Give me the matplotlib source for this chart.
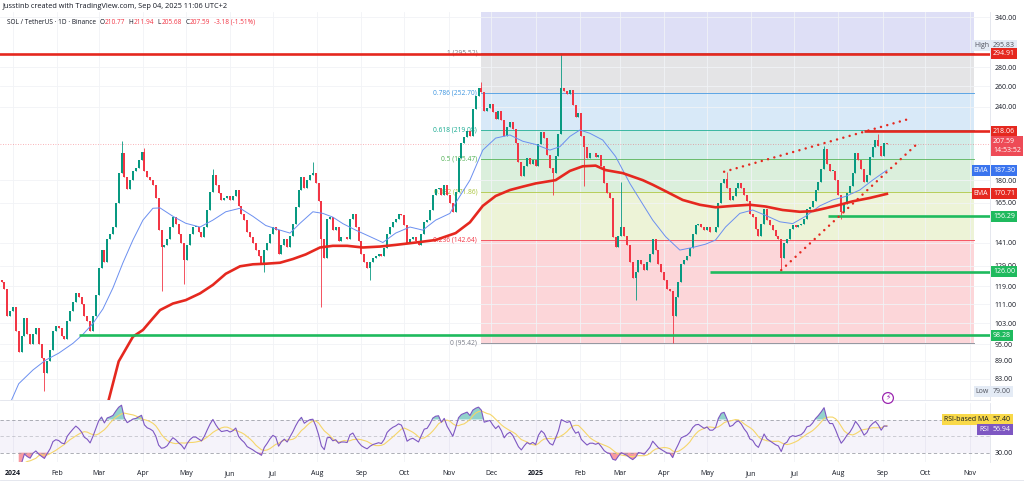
import matplotlib
matplotlib.use('Agg')
import matplotlib.pyplot as plt
import matplotlib.dates as mdates
from matplotlib.lines import Line2D
from matplotlib.ticker import NullLocator, NullFormatter, FixedLocator
import numpy as np
import pandas as pd

plt.rcParams['font.family'] = ['Open Sans', 'DejaVu Sans']

# SOL / USDT closes, one reading every 2 days starting 2023-12-24
START = '2023-12-24'
first_open = 122
closes = [
    121, 118, 106, 108, 110, 100, 92, 98, 105, 99,
    95, 99, 101, 95, 90, 85, 89, 93, 100, 102,
    101, 98, 97, 104, 108, 112, 116, 114, 111, 106,
    104, 100, 106, 115, 128, 137, 131, 143, 146, 150,
    165, 185, 200, 182, 174, 180, 187, 189, 195, 201,
    187, 182, 180, 177, 168, 148, 139, 140, 143, 150,
    156, 152, 146, 141, 132, 140, 146, 150, 150, 147,
    144, 150, 160, 172, 184, 177, 171, 167, 168, 169,
    167, 169, 173, 163, 158, 154, 147, 144, 141, 137,
    134, 130, 137, 141, 146, 150, 148, 135, 140, 143,
    139, 145, 152, 162, 173, 182, 175, 180, 184, 185,
    178, 166, 143, 133, 155, 156, 148, 150, 142, 144,
    144, 143, 155, 158, 150, 142, 135, 131, 128, 131,
    133, 134, 135, 134, 138, 146, 150, 153, 155, 158,
    157, 151, 141, 143, 144, 142, 140, 146, 153, 154,
    160, 170, 174, 175, 170, 177, 170, 165, 159, 172,
    196, 208, 213, 218, 214, 238, 250, 258, 254, 236,
    239, 242, 235, 229, 236, 228, 214, 222, 226, 220,
    208, 193, 183, 190, 196, 192, 195, 190, 207, 217,
    212, 199, 189, 185, 198, 216, 258, 255, 252, 256,
    241, 230, 234, 214, 205, 196, 200, 200, 197, 199,
    190, 178, 171, 168, 144, 139, 145, 150, 145, 140,
    131, 123, 126, 132, 130, 127, 131, 135, 143, 137,
    130, 126, 122, 118, 117, 106, 114, 121, 130, 132,
    134, 138, 146, 151, 152, 150, 148, 150, 147, 147,
    150, 165, 178, 181, 175, 167, 169, 175, 178, 175,
    170, 166, 158, 156, 149, 145, 152, 161, 154, 151,
    148, 145, 143, 133, 141, 143, 149, 151, 150, 151,
    152, 155, 161, 162, 166, 173, 179, 188, 203, 192,
    187, 187, 180, 170, 159, 164, 171, 176, 185, 200,
    195, 188, 179, 184, 197, 205, 211, 206, 198, 208, 207.59,
]

# the long wicks that stand out
wick_highs = {
    '2024-03-18': 210, '2024-04-01': 204, '2024-05-21': 188, '2024-07-29': 193,
    '2024-11-23': 264, '2025-01-19': 295.83, '2025-03-02': 179, '2025-05-14': 186,
    '2025-07-22': 206, '2025-08-29': 216,
}
wick_lows = {
    '2024-01-23': 79.0, '2024-04-13': 117, '2024-05-01': 120, '2024-06-24': 126,
    '2024-08-05': 110, '2024-09-07': 122, '2025-01-13': 170, '2025-02-03': 176,
    '2025-03-11': 113, '2025-04-07': 95.4, '2025-06-22': 126.8, '2025-08-02': 155,
}

ema200_dates = ['2024-03-04', '2024-03-08', '2024-03-15', '2024-03-25', '2024-04-01', '2024-04-08',
                '2024-04-13', '2024-04-22', '2024-05-01', '2024-05-11', '2024-05-20', '2024-05-29',
                '2024-06-08', '2024-06-17', '2024-06-26', '2024-07-06', '2024-07-15', '2024-07-24',
                '2024-08-03', '2024-08-12', '2024-08-22', '2024-09-02', '2024-09-14', '2024-09-25',
                '2024-10-09', '2024-10-23', '2024-11-06', '2024-11-16', '2024-11-25', '2024-12-04',
                '2024-12-14', '2024-12-23', '2025-01-01', '2025-01-15', '2025-01-25', '2025-02-03',
                '2025-02-12', '2025-02-19', '2025-03-03', '2025-03-17', '2025-03-24', '2025-04-02',
                '2025-04-14', '2025-04-26', '2025-05-07', '2025-05-19', '2025-05-31', '2025-06-11',
                '2025-06-23', '2025-07-05', '2025-07-14', '2025-07-23', '2025-08-02', '2025-08-11',
                '2025-08-23', '2025-09-04']
ema200_vals = [72, 76.4, 88.8, 97.8, 100.4, 105.1,
               108.5, 111.3, 112.8, 115.8, 119.7, 125.0,
               128.7, 129.7, 130.0, 130.5, 132.4, 134.8,
               138.5, 139.4, 139.4, 138.5, 139.0, 139.9,
               141.2, 142.6, 146.5, 152.8, 162.9, 169.3,
               173.3, 175.6, 177.8, 180.1, 186.7, 190.1,
               190.6, 187.3, 185.1, 180.1, 176.9, 172.5,
               166.7, 163.6, 162.0, 162.9, 163.6, 162.5,
               160.3, 159.2, 159.6, 161.4, 163.6, 165.8,
               168.0, 170.71]

ema50_dates = ['2023-12-27', '2023-12-31', '2024-01-05', '2024-01-15', '2024-01-24', '2024-02-02',
               '2024-02-12', '2024-02-19', '2024-02-26', '2024-03-04', '2024-03-11', '2024-03-18',
               '2024-03-25', '2024-04-01', '2024-04-08', '2024-04-13', '2024-04-22', '2024-05-01',
               '2024-05-11', '2024-05-20', '2024-05-29', '2024-06-08', '2024-06-17', '2024-06-26',
               '2024-07-06', '2024-07-13', '2024-07-20', '2024-07-29', '2024-08-05', '2024-08-12',
               '2024-08-19', '2024-08-28', '2024-09-07', '2024-09-16', '2024-09-25', '2024-10-05',
               '2024-10-14', '2024-10-23', '2024-11-02', '2024-11-06', '2024-11-16', '2024-11-25',
               '2024-12-04', '2024-12-14', '2024-12-23', '2025-01-01', '2025-01-11', '2025-01-18',
               '2025-01-25', '2025-02-01', '2025-02-08', '2025-02-17', '2025-02-26', '2025-03-08',
               '2025-03-17', '2025-03-24', '2025-04-02', '2025-04-12', '2025-04-21', '2025-04-30',
               '2025-05-07', '2025-05-14', '2025-05-24', '2025-06-02', '2025-06-11', '2025-06-21',
               '2025-06-30', '2025-07-09', '2025-07-19', '2025-07-28', '2025-08-06', '2025-08-16',
               '2025-08-25', '2025-09-04']
ema50_vals = [72, 76.4, 81.4, 85.9, 89.3, 91.7,
              95.3, 98.7, 103.0, 109.0, 118.3, 130.5,
              142.6, 154.1, 161.4, 161.6, 156.4, 152.2,
              150.0, 154.1, 159.2, 161.4, 156.4, 150.9,
              148.2, 146.5, 152.2, 159.2, 158.2, 155.9,
              152.0, 148.2, 144.5, 141.2, 146.5, 150.0,
              148.2, 154.1, 158.2, 164.8, 180.1, 202.5,
              212.2, 214.8, 209.6, 207.0, 202.5, 205.2,
              213.6, 219.0, 216.2, 210.6, 197.5, 177.8,
              164.0, 154.1, 144.5, 137.1, 138.5, 140.3,
              142.6, 150.0, 158.2, 160.3, 157.0, 153.1,
              152.0, 156.4, 162.9, 166.7, 169.0, 173.3,
              180.1, 187.30]

fib_low, fib_high = 95.42, 295.52
fib_levels = [0, 0.236, 0.382, 0.5, 0.618, 0.786, 1, 1.618]
fib_colors = ['#787b86', '#f23645', '#a9c43a', '#4caf50', '#14a98f', '#3d95e0', '#787b86', '#5c5fd6']
fib_start, fib_end = '2024-11-24', '2025-11-04'

RED = '#e5281f'
GREEN = '#1fba5e'
h_levels = [294.91, 218.06, 156.29, 126.00, 98.28]
h_starts = ['2023-12-20', '2025-08-19', '2025-07-25', '2025-05-03', '2024-02-16']
h_colors = [RED, RED, GREEN, GREEN, GREEN]

trend_upper = (['2025-05-13', '2025-09-19'], [186.1, 228.5])
trend_lower = (['2025-06-22', '2025-09-25'], [126.8, 207.3])

last_price = 207.59
price_ticks = [340, 280, 260, 240, 180, 165, 141, 129, 119, 111, 103, 95, 89, 83]
month_starts = pd.date_range('2024-01-01', '2025-11-01', freq='MS')
month_labels = [('2024' if d.month == 1 and d.year == 2024 else '2025' if d.month == 1 else d.strftime('%b'))
                for d in month_starts]

legend_parts = [('SOL / TetherUS · 1D · Binance', 'k', 3.5), ('O', 'k', 0.3), ('210.77', 'r', 3.5),
                ('H', 'k', 0.3), ('211.94', 'r', 3.5), ('L', 'k', 0.3), ('205.68', 'r', 3.5),
                ('C', 'k', 0.3), ('207.59', 'r', 3.5), ('-3.18 (-1.51%)', 'r', 0)]

UP, DOWN = '#089981', '#f23645'
TXT = '#131722'
GRID = '#f1f3f6'


def dnum(d):
    return mdates.date2num(pd.Timestamp(d))


def tag(ax, y, text, fc, tc='white', x=1.003, ha='left', fs=5):
    ax.text(x, y, text, transform=ax.get_yaxis_transform(), ha=ha, va='center', fontsize=fs,
            color=tc, zorder=20, clip_on=False,
            bbox=dict(boxstyle='square,pad=0.28', fc=fc, ec='none'))


fig = plt.figure(figsize=(10.24, 4.84), dpi=100)
W, H = 1024, 484
ax1 = fig.add_axes([0, 1 - 400 / H, 990 / W, 388 / H])
ax2 = fig.add_axes([0, 1 - 462 / H, 990 / W, 59 / H], sharex=ax1)

t0 = dnum('2024-01-01')
ax1.set_xlim(t0 - 9.1, t0 + 684.2)
ax1.set_yscale('log')
ax1.set_ylim(76.4, 347)

# candles
dates = pd.date_range(START, periods=len(closes), freq='2D')
x = mdates.date2num(dates)
c = np.array(closes, float)
o = np.concatenate([[first_open], c[:-1]])
hi = np.maximum(o, c)
lo = np.minimum(o, c)
body_lo, body_hi = lo.copy(), hi.copy()
for d, v in wick_highs.items():
    i = int(round((dnum(d) - x[0]) / 2))
    hi[i] = max(hi[i], v)
for d, v in wick_lows.items():
    i = int(round((dnum(d) - x[0]) / 2))
    lo[i] = min(lo[i], v)
cols = np.where(c >= o, UP, DOWN)
ax1.vlines(x, lo, hi, colors=cols, lw=0.6, zorder=3)
ax1.bar(x, np.maximum(body_hi - body_lo, 0.4), bottom=body_lo, width=1.4, color=cols, lw=0, zorder=4)

# fib retracement
fx0, fx1 = dnum(fib_start), dnum(fib_end)
fib_prices = [fib_low + l * (fib_high - fib_low) for l in fib_levels]
for i in range(len(fib_prices) - 1):
    ax1.fill_between([fx0, fx1], fib_prices[i], fib_prices[i + 1], color=fib_colors[i + 1],
                     alpha=0.2, lw=0, zorder=0)
for l, p, col in zip(fib_levels[:-1], fib_prices[:-1], fib_colors[:-1]):
    ax1.plot([fx0, fx1], [p, p], color=col, lw=0.7, alpha=0.8, zorder=1)
    ax1.annotate(f'{l:g} ({p:.2f})', (fx0, p), xytext=(-3, 0), textcoords='offset points',
                 ha='right', va='center', fontsize=4.8, color=col, zorder=2)

# moving averages
ax1.plot(pd.to_datetime(ema50_dates), ema50_vals, color='#6b8ff0', lw=0.7, zorder=5)
ax1.plot(pd.to_datetime(ema200_dates), ema200_vals, color=RED, lw=1.9, zorder=6)

# horizontal levels and trend lines
xr = ax1.get_xlim()[1]
for p, s, col in zip(h_levels, h_starts, h_colors):
    ax1.plot([dnum(s), xr], [p, p], color=col, lw=1.9, zorder=7, solid_capstyle='butt')
ax1.axhline(last_price, color='#f23645', lw=0.6, ls=(0, (1, 2)), alpha=0.5, zorder=2)
for dts, vals in (trend_upper, trend_lower):
    ax1.plot([dnum(d) for d in dts], vals, color=RED, lw=1.8, ls=(0, (0.01, 2.6)),
             dash_capstyle='round', zorder=8)

# axis cosmetics
ax1.set_xticks(mdates.date2num(month_starts))
ax1.yaxis.tick_right()
ax1.yaxis.set_major_locator(FixedLocator(price_ticks))
ax1.yaxis.set_minor_locator(NullLocator())
ax1.yaxis.set_minor_formatter(NullFormatter())
ax1.set_yticklabels([f'{t:.2f}' for t in price_ticks])
ax1.tick_params(axis='y', length=0, pad=3, labelsize=5, labelcolor=TXT)
ax1.tick_params(axis='x', length=0, labelbottom=False)
ax1.grid(True, color=GRID, lw=0.6, zorder=-1)
ax1.set_axisbelow(True)
for s in ('left', 'top'):
    ax1.spines[s].set_visible(False)
ax1.spines['right'].set_color('#e0e3eb')
ax1.spines['bottom'].set_color('#e0e3eb')
ax1.spines['right'].set_linewidth(0.6)
ax1.spines['bottom'].set_linewidth(0.6)

# price scale tags
tag(ax1, 305, 'High', '#e4ebf5', tc='#50535e', x=0.999, ha='right')
tag(ax1, 305, '295.83', '#e4ebf5', tc='#50535e')
tag(ax1, 294.91, '294.91', RED)
tag(ax1, 218.06, '218.06', RED)
ax1.text(1.003, 212, '207.59\n14:53:52', transform=ax1.get_yaxis_transform(), ha='left', va='top',
         fontsize=5, color='white', zorder=20, clip_on=False, linespacing=1.3,
         bbox=dict(boxstyle='square,pad=0.28', fc='#ee4b57', ec='none'))
tag(ax1, 187.30, 'EMA', '#3a74ee', x=0.998, ha='right')
tag(ax1, 187.30, '187.30', '#3a74ee')
tag(ax1, 170.71, 'EMA', RED, x=0.998, ha='right')
tag(ax1, 170.71, '170.71', RED)
tag(ax1, 156.29, '156.29', GREEN)
tag(ax1, 126.00, '126.00', GREEN)
tag(ax1, 98.28, '98.28', GREEN)
tag(ax1, 79.0, 'Low', '#e4ebf5', tc='#50535e', x=0.999, ha='right')
tag(ax1, 79.0, '79.00', '#e4ebf5', tc='#50535e')

# RSI pane (computed from the closes above)
n = 11
delta = pd.Series(c).diff()
gain = delta.clip(lower=0).ewm(alpha=1 / n, adjust=False).mean()
loss = (-delta.clip(upper=0)).ewm(alpha=1 / n, adjust=False).mean()
rsi = (100 - 100 / (1 + gain / loss)).to_numpy()
rsi[:6] = np.nan
rsi_ma = pd.Series(rsi).rolling(7, min_periods=3).mean().to_numpy()

ax2.set_ylim(18.8, 89.9)
ax2.axhspan(30, 70, color='#7e57c2', alpha=0.07, lw=0)
for lvl, a in ((70, 0.9), (50, 0.5), (30, 0.9)):
    ax2.axhline(lvl, color='#9598a1', lw=0.6, ls=(0, (4, 3)), alpha=a)
ax2.plot(x, rsi_ma, color='#f5d66a', lw=0.8)
ax2.plot(x, rsi, color='#7e57c2', lw=0.8)
ok = ~np.isnan(rsi)
ax2.fill_between(x[ok], rsi[ok], 70, where=rsi[ok] > 70, interpolate=True, color='#26a69a', alpha=0.5, lw=0)
ax2.fill_between(x[ok], rsi[ok], 30, where=rsi[ok] < 30, interpolate=True, color='#f23645', alpha=0.5, lw=0)
ax2.yaxis.tick_right()
ax2.set_yticks([30])
ax2.set_yticklabels(['30.00'])
ax2.tick_params(axis='y', length=0, pad=3, labelsize=5, labelcolor=TXT)
ax2.set_xticks(mdates.date2num(month_starts))
ax2.set_xticklabels(month_labels)
ax2.tick_params(axis='x', length=0, pad=6, labelsize=5, labelcolor=TXT)
for lab in ax2.get_xticklabels():
    if lab.get_text() in ('2024', '2025'):
        lab.set_fontweight('bold')
ax2.grid(True, axis='x', color=GRID, lw=0.6)
ax2.set_axisbelow(True)
for s in ('left', 'top', 'bottom'):
    ax2.spines[s].set_visible(False)
ax2.spines['right'].set_color('#e0e3eb')
ax2.spines['right'].set_linewidth(0.6)
tag(ax2, 70.5, 'RSI-based MA', '#f9d949', tc=TXT, x=0.999, ha='right')
tag(ax2, 70.5, '57.40', '#f9d949', tc=TXT)
tag(ax2, 58.5, 'RSI', '#7e57c2', x=0.999, ha='right')
tag(ax2, 58.5, '56.94', '#7e57c2')

fig.add_artist(Line2D([0, 1], [1 - 480 / H] * 2, color='#e0e3eb', lw=0.6))

# header
fig.text(3 / W, 1 - 6.5 / H, 'Jusstinb created with TradingView.com, Sep 04, 2025 11:06 UTC+2',
         fontsize=5.3, color=TXT, va='center')
renderer = fig.canvas.get_renderer()
px = 7
for s, kind, gap in legend_parts:
    t = fig.text(px / W, 1 - 22 / H, s, fontsize=4.7, color=TXT if kind == 'k' else DOWN, va='center')
    px = t.get_window_extent(renderer=renderer).x1 + gap

# alert icon
fig.text(888 / W, 1 - 398 / H, '⚡', fontsize=5.5, color='#9c27b0', ha='center', va='center',
         bbox=dict(boxstyle='circle,pad=0.25', fc='white', ec='#9c27b0', lw=0.9))

fig.savefig('out.png', dpi=100)
